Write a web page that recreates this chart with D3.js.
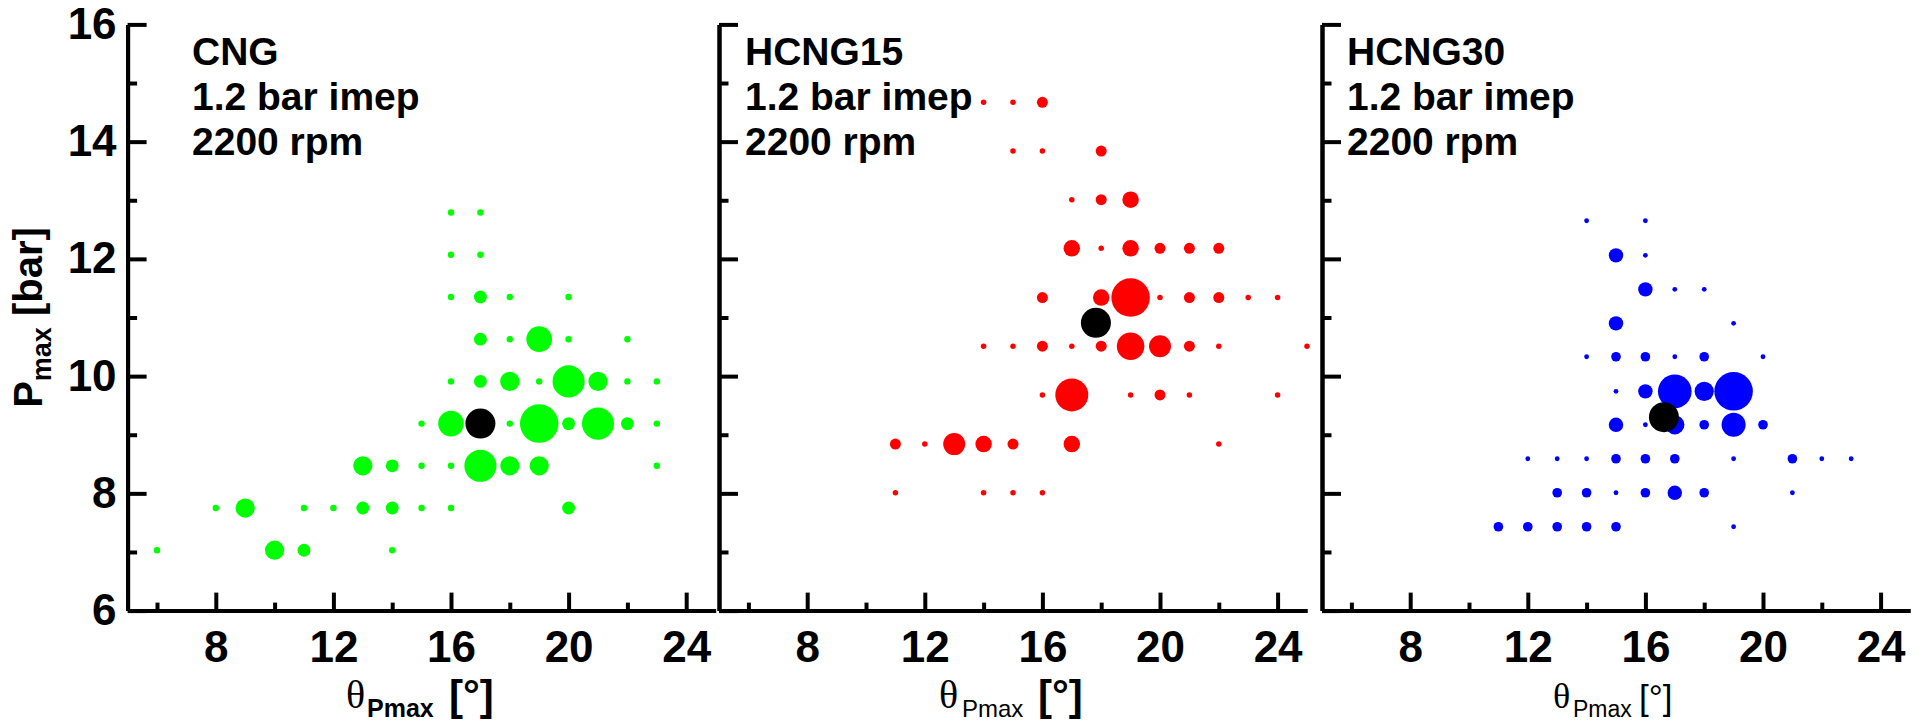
<!DOCTYPE html>
<html>
<head>
<meta charset="utf-8">
<script src="https://cdn.jsdelivr.net/npm/d3@7"></script>
<style>
  html, body { margin: 0; padding: 0; background: #fff; }
  svg { display: block; font-family: "Liberation Sans", Arial, sans-serif; }
</style>
</head>
<body>
<svg id="chart" width="1915" height="724"></svg>
<script>
// Bubble data: one row per Pmax level, theta values and counts per row
const fuels = ["CNG", "HCNG15", "HCNG30"];
const fuelColors = ["#00ff00", "#ff0000", "#0000ff"];

const cngLevels = [7.03, 7.75, 8.47, 9.19, 9.91, 10.63, 11.35, 12.07, 12.79];
const cngTheta = [
    [6, 10, 11, 14],
    [8, 9, 11, 12, 13, 14, 15, 16, 20],
    [13, 14, 15, 16, 17, 18, 19, 23],
    [15, 16, 18, 19, 20, 21, 22, 23],
    [16, 17, 18, 19, 20, 21, 22, 23],
    [17, 18, 19, 20, 22],
    [16, 17, 18, 20],
    [16, 17],
    [16, 17]
];
const cngCount = [
    [1, 3, 2, 1],
    [1, 3, 1, 1, 2, 2, 1, 1, 2],
    [3, 2, 1, 1, 5, 3, 3, 1],
    [1, 4, 1, 6, 2, 5, 2, 1],
    [1, 2, 3, 1, 5, 3, 1, 1],
    [2, 1, 4, 1, 1],
    [1, 2, 1, 1],
    [1, 1],
    [1, 1]
];

const hcng15Levels = [8.01, 8.84, 9.68, 10.51, 11.34, 12.18, 13.01, 13.84, 14.67];
const hcng15Theta = [
    [11, 14, 15, 16],
    [11, 12, 13, 14, 15, 17, 22],
    [16, 17, 19, 20, 21, 24],
    [14, 15, 16, 17, 18, 19, 20, 21, 22, 25],
    [16, 18, 19, 20, 21, 22, 23, 24],
    [17, 18, 19, 20, 21, 22],
    [17, 18, 19],
    [15, 16, 18],
    [13, 14, 15, 16]
];
const hcng15Count = [
    [1, 1, 1, 1],
    [2, 1, 4, 3, 2, 3, 1],
    [1, 6, 1, 2, 1, 1],
    [1, 1, 2, 1, 2, 5, 4, 2, 1, 1],
    [2, 3, 7, 1, 2, 2, 1, 1],
    [3, 1, 3, 2, 2, 2],
    [1, 2, 3],
    [1, 1, 2],
    [1, 1, 1, 2]
];

const hcng30Levels = [7.43, 8.01, 8.59, 9.17, 9.74, 10.33, 10.90, 11.48, 12.06, 12.65];
const hcng30Theta = [
    [11, 12, 13, 14, 15, 19],
    [13, 14, 15, 16, 17, 18, 21],
    [12, 13, 14, 15, 16, 17, 19, 21, 22, 23],
    [15, 16, 17, 18, 19, 20],
    [15, 16, 17, 18, 19],
    [14, 15, 16, 17, 18, 20],
    [15, 19],
    [16, 17, 18],
    [15, 16],
    [14, 16]
];
const hcng30Count = [
    [2, 2, 2, 2, 2, 1],
    [2, 2, 1, 2, 3, 2, 1],
    [1, 1, 1, 2, 2, 2, 1, 2, 1, 1],
    [3, 1, 4, 2, 5, 2],
    [1, 3, 7, 4, 8],
    [1, 2, 2, 1, 2, 1],
    [3, 1],
    [3, 1, 1],
    [3, 1],
    [1, 1]
];

// black marker (mean point) per fuel
const meanTheta = [17.0, 17.82, 16.63];
const meanPmax = [9.19, 10.91, 9.30];

const xMajorTicks = [8, 12, 16, 20, 24];
const xMinorTicks = [6, 10, 14, 18, 22];
const yMajorTicks = [6, 8, 10, 12, 14, 16];
const yMinorTicks = [7, 9, 11, 13, 15];
const infoLines = ["1.2 bar imep", "2200 rpm"];


const svg = d3.select("#chart");

// layout
const panelLeft = [127.6, 719, 1322];
const panelWidth = 588;
const yTop = 24.4, yBottom = 610.6;
const infoX = [192, 745, 1347];
// x title pieces: theta, subscript, unit (left edges)
const titleX = [[346, 367, 449], [939, 962, 1038], [1553, 1573, 1639]];

const allLevels = [cngLevels, hcng15Levels, hcng30Levels];
const allTheta = [cngTheta, hcng15Theta, hcng30Theta];
const allCount = [cngCount, hcng15Count, hcng30Count];

/**
 * Flatten the per-row arrays into a list of {theta, pmax, n}
 */
function toPoints(levels, theta, count) {
    const points = [];
    levels.forEach((level, i) => {
        theta[i].forEach((t, j) => points.push({ theta: t, pmax: level, n: count[i][j] }));
    });
    return points;
}

function styleAxis(g) {
    g.attr("font-family", null).attr("font-size", null);
    g.select(".domain").attr("stroke", "#000").attr("stroke-width", 4);
    g.selectAll(".tick line").attr("stroke", "#000").attr("stroke-width", 4);
    g.selectAll(".tick text")
        .attr("fill", "#000")
        .attr("font-size", "44px")
        .attr("font-weight", "bold");
}

fuels.forEach((fuel, i) => {
    const left = panelLeft[i];
    const x = d3.scaleLinear().domain([5, 25]).range([left, left + panelWidth]);
    const y = d3.scaleLinear().domain([6, 16]).range([yBottom, yTop]);
    const points = toPoints(allLevels[i], allTheta[i], allCount[i]);
    const r = d3.scaleLinear().domain([0, d3.max(points, d => d.n)]).range([0, 19.25]);

    const panel = svg.append("g").attr("class", "panel");

    // x axis, major and minor ticks pointing inwards
    panel.append("g")
        .attr("transform", `translate(0,${yBottom})`)
        .call(d3.axisBottom(x).tickValues(xMinorTicks).tickSize(-8).tickSizeOuter(0).tickFormat(""))
        .call(styleAxis);
    panel.append("g")
        .attr("transform", `translate(0,${yBottom})`)
        .call(d3.axisBottom(x).tickValues(xMajorTicks).tickSize(-18).tickSizeOuter(0).tickPadding(20))
        .call(styleAxis);

    // y axis, labels only on the first panel
    panel.append("g")
        .attr("transform", `translate(${left},0)`)
        .call(d3.axisLeft(y).tickValues(yMinorTicks).tickSize(-9.5).tickSizeOuter(0).tickFormat(""))
        .call(styleAxis);
    panel.append("g")
        .attr("transform", `translate(${left},0)`)
        .call(d3.axisLeft(y).tickValues(yMajorTicks).tickSize(-19).tickSizeOuter(0).tickPadding(11)
            .tickFormat(i === 0 ? d3.format("d") : ""))
        .call(styleAxis);

    // bubbles
    panel.append("g").selectAll("circle")
        .data(points)
        .join("circle")
        .attr("cx", d => x(d.theta))
        .attr("cy", d => y(d.pmax))
        .attr("r", d => r(d.n))
        .attr("fill", fuelColors[i]);

    // mean point
    panel.append("circle")
        .attr("cx", x(meanTheta[i]))
        .attr("cy", y(meanPmax[i]))
        .attr("r", 15)
        .attr("fill", "#000");

    // fuel / operating point annotation
    const info = panel.append("text")
        .attr("x", infoX[i])
        .attr("y", 65)
        .attr("font-size", "39px")
        .attr("font-weight", "bold")
        .attr("fill", "#000");
    [fuel, ...infoLines].forEach((line, k) => {
        info.append("tspan").attr("x", infoX[i]).attr("y", 65 + k * 45).text(line);
    });

    // x axis title: theta_Pmax [°]
    const subBold = i === 0;
    const unitBold = i < 2;
    const title = panel.append("g").attr("fill", "#000");
    title.append("text")
        .attr("x", titleX[i][0])
        .attr("y", 708)
        .attr("font-family", "'Liberation Serif', 'Times New Roman', serif")
        .attr("font-size", i === 2 ? "36px" : "40px")
        .text("θ");
    title.append("text")
        .attr("x", titleX[i][1])
        .attr("y", 717)
        .attr("font-size", i === 2 ? "23px" : (subBold ? "25px" : "24px"))
        .attr("font-weight", subBold ? "bold" : "normal")
        .text("Pmax");
    title.append("text")
        .attr("x", titleX[i][2])
        .attr("y", 710)
        .attr("font-size", i === 2 ? "35px" : "42px")
        .attr("font-weight", unitBold ? "bold" : "normal")
        .text("[°]");
});

// y axis title
const yTitle = svg.append("text")
    .attr("transform", `translate(42,${(yTop + yBottom) / 2}) rotate(-90)`)
    .attr("text-anchor", "middle")
    .attr("font-weight", "bold")
    .attr("fill", "#000");
yTitle.append("tspan").attr("font-size", "40px").text("P");
yTitle.append("tspan").attr("font-size", "27px").attr("dy", 9).text("max");
yTitle.append("tspan").attr("font-size", "40px").attr("dy", -9).text(" [bar]");
</script>
</body>
</html>
